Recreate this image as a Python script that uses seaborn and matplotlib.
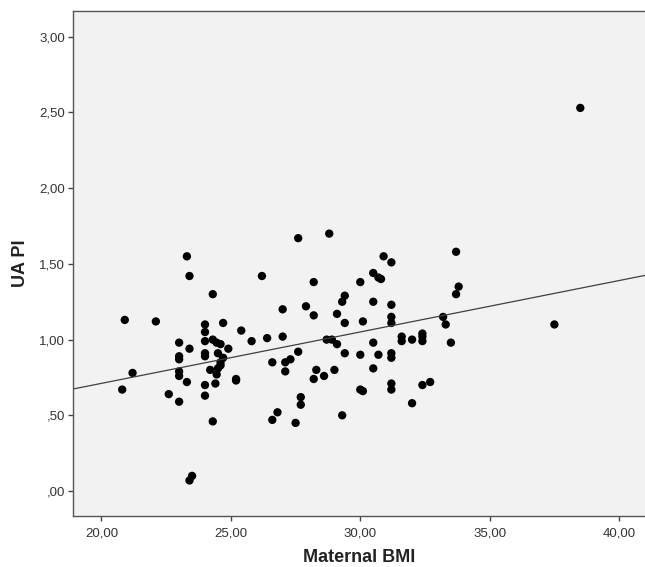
import numpy as np
import pandas as pd
import matplotlib
matplotlib.use('Agg')
import matplotlib.pyplot as plt
from matplotlib.ticker import FuncFormatter, MultipleLocator
import seaborn as sns

# values
bmi = [20.8, 20.9, 21.2, 22.1, 22.6, 23.0, 23.0, 23.0, 23.0, 23.0, 23.0,
       23.3, 23.3, 23.4, 23.4, 23.4, 23.5, 24.0, 24.0, 24.0, 24.0, 24.0,
       24.0, 24.0, 24.3, 24.3, 24.45, 24.6, 24.5, 24.7, 24.6, 24.6, 24.2,
       24.5, 24.45, 24.4, 24.3, 24.7, 24.9, 25.2, 25.2, 25.4, 25.8, 26.2,
       26.4, 26.6, 26.6, 26.8, 27.0, 27.0, 27.1, 27.1, 27.3, 27.5, 27.6,
       27.6, 27.7, 27.7, 27.9, 28.2, 28.2, 28.2, 28.3, 28.6, 28.7, 28.8,
       28.9, 29.0, 29.1, 29.1, 29.3, 29.4, 29.4, 29.4, 29.3, 30.0, 30.0,
       30.0, 30.1, 30.1, 30.5, 30.5, 30.5, 30.5, 30.7, 30.8, 30.9, 30.7,
       31.2, 31.2, 31.2, 31.2, 31.2, 31.2, 31.2, 31.2, 31.6, 31.6, 32.0,
       32.0, 32.4, 32.4, 32.4, 32.4, 32.7, 33.2, 33.3, 33.5, 33.7, 33.7,
       33.8, 37.5, 38.5]
ua_pi = [0.67, 1.13, 0.78, 1.12, 0.64, 0.98, 0.89, 0.87, 0.79, 0.76, 0.59,
         1.55, 0.72, 1.42, 0.94, 0.07, 0.10, 1.10, 1.05, 0.99, 0.91, 0.89,
         0.70, 0.63, 1.30, 1.00, 0.98, 0.97, 0.91, 0.88, 0.85, 0.83, 0.80,
         0.81, 0.77, 0.71, 0.46, 1.11, 0.94, 0.74, 0.73, 1.06, 0.99, 1.42,
         1.01, 0.85, 0.47, 0.52, 1.20, 1.02, 0.85, 0.79, 0.87, 0.45, 0.92,
         1.67, 0.62, 0.57, 1.22, 1.38, 1.16, 0.74, 0.80, 0.76, 1.00, 1.70,
         1.00, 0.80, 1.17, 0.97, 1.25, 1.29, 1.11, 0.91, 0.50, 1.38, 0.90,
         0.67, 1.12, 0.66, 1.44, 1.25, 0.98, 0.81, 1.41, 1.40, 1.55, 0.90,
         1.51, 1.23, 1.15, 1.11, 0.91, 0.88, 0.71, 0.67, 1.02, 0.99, 1.00,
         0.58, 1.04, 1.02, 0.99, 0.70, 0.72, 1.15, 1.10, 0.98, 1.58, 1.30,
         1.35, 1.10, 2.53]

df = pd.DataFrame({'Maternal BMI': bmi, 'UA PI': ua_pi})

sns.set_style('white')
plt.rcParams['font.family'] = ['Liberation Sans', 'DejaVu Sans']

fig = plt.figure(figsize=(6.45, 5.67), dpi=100)
ax = fig.add_axes([0.1132, 0.0899, 0.8868, 0.8907])
ax.set_facecolor('#f1f2f1')

xlim = (18.9, 41.0)
ylim = (-0.165, 3.17)
ax.set_xlim(xlim)
ax.set_ylim(ylim)

sns.regplot(data=df, x='Maternal BMI', y='UA PI', ci=None, truncate=False, ax=ax,
            scatter_kws=dict(s=36, color='black', edgecolor='none', alpha=1),
            line_kws=dict(color='#404040', lw=0.9))
ax.set_xlim(xlim)
ax.set_ylim(ylim)


def spss_fmt(v, pos):
    s = f'{abs(v) if abs(v) < 1e-9 else v:.2f}'.replace('.', ',')
    if s.startswith('0,'):
        s = s[1:]
    return s


ax.xaxis.set_major_locator(MultipleLocator(5))
ax.yaxis.set_major_locator(MultipleLocator(0.5))
ax.xaxis.set_major_formatter(FuncFormatter(spss_fmt))
ax.yaxis.set_major_formatter(FuncFormatter(spss_fmt))

ax.tick_params(axis='both', direction='out', length=3.8, width=1, color='#444444',
               labelsize=9.5, labelcolor='#333333')
ax.tick_params(axis='x', pad=4.5)
ax.tick_params(axis='y', pad=2)
ax.tick_params(bottom=True, left=True)

for side in ['left', 'bottom', 'top']:
    ax.spines[side].set_color('#555555')
    ax.spines[side].set_linewidth(1.0)
ax.spines['right'].set_visible(False)

ax.set_xlabel('Maternal BMI', fontsize=13, fontweight='bold', color='#222222', labelpad=7)
ax.set_ylabel('UA PI', fontsize=13, fontweight='bold', color='#222222', labelpad=7)

fig.savefig('out.png', dpi=100)
